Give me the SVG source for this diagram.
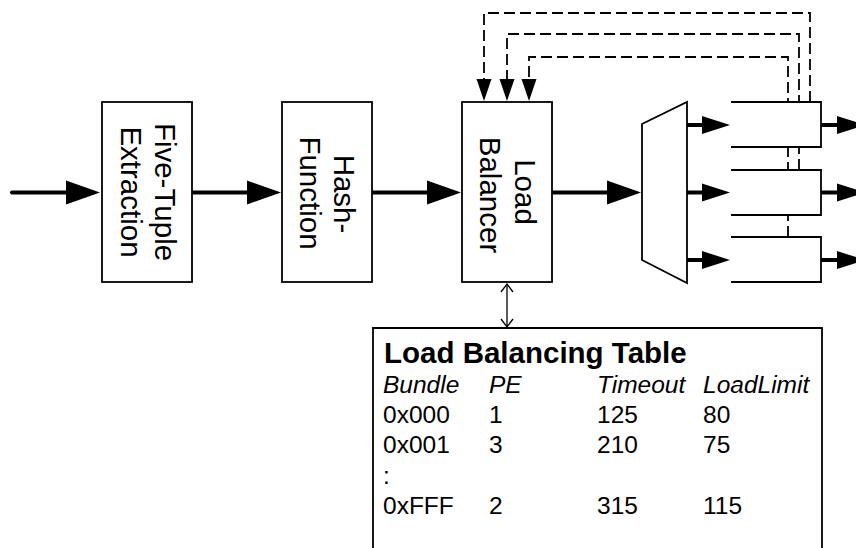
<svg xmlns="http://www.w3.org/2000/svg" width="856" height="548" viewBox="0 0 856 548">
<defs>
<style>
.box{fill:#fff;stroke:#000;stroke-width:1.8}
.thick{fill:none;stroke:#000;stroke-width:4}
.dash{fill:none;stroke:#000;stroke-width:1.8;stroke-dasharray:11,5}
.thin{fill:none;stroke:#000;stroke-width:1.3}
.lbl{font-family:"Liberation Sans",Arial,sans-serif;font-size:29.5px;fill:#000;text-anchor:middle}
.tt{font-family:"Liberation Sans",Arial,sans-serif;font-size:24.5px;fill:#000}
.title{font-weight:bold;font-size:29.5px}
.hd{font-style:italic}
</style>
<marker id="big" markerUnits="userSpaceOnUse" markerWidth="36" markerHeight="26" viewBox="0 0 36 26" refX="1" refY="13" orient="auto">
<path d="M0,1 L34,13 L0,25 z" fill="#000"/>
</marker>
<marker id="mid" markerUnits="userSpaceOnUse" markerWidth="30" markerHeight="20" viewBox="0 0 30 20" refX="1" refY="10" orient="auto">
<path d="M0,1 L28,10 L0,19 z" fill="#000"/>
</marker>
<marker id="dh" markerUnits="userSpaceOnUse" markerWidth="24" markerHeight="17" viewBox="0 0 24 17" refX="1" refY="8.5" orient="auto">
<path d="M0,1 L22,8.5 L0,16 z" fill="#000"/>
</marker>
<marker id="open" markerUnits="userSpaceOnUse" markerWidth="12" markerHeight="14" viewBox="0 0 12 14" refX="9" refY="7" orient="auto-start-reverse">
<path d="M1,1 L9,7 L1,13" fill="none" stroke="#000" stroke-width="1.3"/>
</marker>
</defs>

<g id="connectors">
<path class="thick" d="M12,192.5 H67" stroke-linecap="round" marker-end="url(#big)"/>
<path class="thick" d="M192,192.5 H248" marker-end="url(#big)"/>
<path class="thick" d="M372,192.5 H428" marker-end="url(#big)"/>
<path class="thick" d="M552,192.5 H608" marker-end="url(#big)"/>
<path class="thick" d="M687,125 H703" marker-end="url(#mid)"/>
<path class="thick" d="M687,192.5 H703" marker-end="url(#mid)"/>
<path class="thick" d="M687,260 H703" marker-end="url(#mid)"/>
<path class="thick" d="M821,125 H838" marker-end="url(#mid)"/>
<path class="thick" d="M821,192.5 H838" marker-end="url(#mid)"/>
<path class="thick" d="M821,260 H838" marker-end="url(#mid)"/>
<path class="dash" d="M810,102 V13 H484 V80" marker-end="url(#dh)"/>
<path class="dash" d="M799,170 V34 H507 V80" marker-end="url(#dh)"/>
<path class="dash" d="M788,237 V57 H529 V80" marker-end="url(#dh)"/>
<path class="thin" d="M507,284 V327" marker-start="url(#open)" marker-end="url(#open)"/>
</g>

<g id="five-tuple-extraction">
<rect class="box" x="102" y="102" width="90" height="180"/>
<text class="lbl" transform="translate(155,192) rotate(90)">Five-Tuple</text>
<text class="lbl" transform="translate(121,192) rotate(90)">Extraction</text>
</g>

<g id="hash-function">
<rect class="box" x="282" y="102" width="90" height="180"/>
<text class="lbl" transform="translate(334,194) rotate(90)">Hash-</text>
<text class="lbl" transform="translate(300,193) rotate(90)">Function</text>
</g>

<g id="load-balancer">
<rect class="box" x="462" y="102" width="90" height="180"/>
<text class="lbl" transform="translate(515,192) rotate(90)">Load</text>
<text class="lbl" transform="translate(480,195) rotate(90)">Balancer</text>
</g>

<g id="demux">
<path class="box" d="M642,124 L687,102 L687,283 L642,260 Z"/>
</g>

<g id="queue-1"><path class="box" d="M731,102 H821 V147 H731"/></g>
<g id="queue-2"><path class="box" d="M731,170 H821 V215 H731"/></g>
<g id="queue-3"><path class="box" d="M731,237 H821 V282 H731"/></g>

<g id="load-balancing-table">
<path class="box" d="M373,560 V328 H822 V560"/>
<text class="tt title" x="384" y="363">Load Balancing Table</text>
<g class="tt hd">
<text x="383" y="393">Bundle</text>
<text x="489" y="393">PE</text>
<text x="597" y="393">Timeout</text>
<text x="703" y="393">LoadLimit</text>
</g>
<g class="tt">
<text x="383" y="423">0x000</text><text x="489" y="423">1</text><text x="597" y="423">125</text><text x="703" y="423">80</text>
<text x="383" y="453">0x001</text><text x="489" y="453">3</text><text x="597" y="453">210</text><text x="703" y="453">75</text>
<text x="383" y="484">:</text>
<text x="383" y="514">0xFFF</text><text x="489" y="514">2</text><text x="597" y="514">315</text><text x="703" y="514">115</text>
</g>
</g>
</svg>
